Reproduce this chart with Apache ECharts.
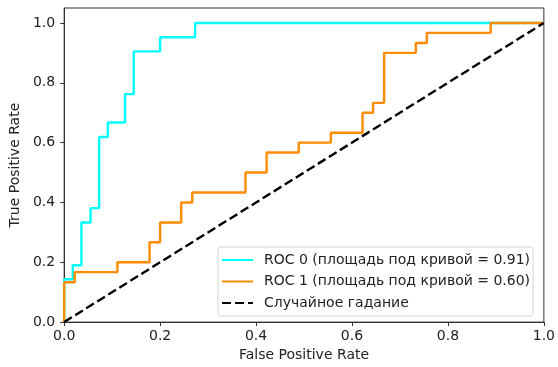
<!DOCTYPE html>
<html>
<head>
<meta charset="utf-8">
<script src="https://cdn.jsdelivr.net/npm/echarts@6/dist/echarts.min.js"></script>
<style>
html, body {margin: 0; padding: 0; background: #fff;}
#chart {width: 558px; height: 367px;}
</style>
</head>
<body>
<div id="chart"></div>
<script>
var fpr0 = [0, 0, 0.018, 0.018, 0.036, 0.036, 0.055, 0.055, 0.073, 0.073, 0.091, 0.091, 0.127, 0.127, 0.145, 0.145, 0.2, 0.2, 0.273, 0.273, 1];
var tpr0 = [0, 0.143, 0.143, 0.19, 0.19, 0.333, 0.333, 0.381, 0.381, 0.619, 0.619, 0.667, 0.667, 0.762, 0.762, 0.905, 0.905, 0.952, 0.952, 1, 1];
var fpr1 = [0, 0, 0.022, 0.022, 0.111, 0.111, 0.178, 0.178, 0.2, 0.2, 0.244, 0.244, 0.267, 0.267, 0.378, 0.378, 0.422, 0.422, 0.489, 0.489, 0.556, 0.556, 0.622, 0.622, 0.644, 0.644, 0.667, 0.667, 0.733, 0.733, 0.756, 0.756, 0.889, 0.889, 1];
var tpr1 = [0, 0.133, 0.133, 0.167, 0.167, 0.2, 0.2, 0.267, 0.267, 0.333, 0.333, 0.4, 0.4, 0.433, 0.433, 0.5, 0.5, 0.567, 0.567, 0.6, 0.6, 0.633, 0.633, 0.7, 0.7, 0.733, 0.733, 0.9, 0.9, 0.933, 0.933, 0.967, 0.967, 1, 1];
var chanceX = [0, 1];
var chanceY = [0, 1];
var ticks = [0, 0.2, 0.4, 0.6, 0.8, 1.0];
var names = ['ROC 0 (площадь под кривой = 0.91)', 'ROC 1 (площадь под кривой = 0.60)', 'Случайное гадание'];

function pairs(xs, ys) {
    return xs.map(function (x, i) { return [x, ys[i]]; });
}

var font = 'DejaVu Sans';
var axisCommon = {
    type: 'value',
    nameLocation: 'middle',
    nameTextStyle: {fontFamily: font, fontSize: 14, color: '#222'},
    axisLine: {show: true, lineStyle: {color: '#333', width: 1}},
    axisTick: {show: true, length: 4, lineStyle: {color: '#333'}, customValues: ticks},
    axisLabel: {fontFamily: font, fontSize: 14, color: '#222', customValues: ticks,
        formatter: function (v) { return v.toFixed(1); }},
    splitLine: {show: false}
};

var chart = echarts.init(document.getElementById('chart'));
chart.setOption({
    animation: false,
    grid: {left: 64, right: 9, top: 8, bottom: 44, show: true, borderColor: '#333', borderWidth: 1},
    xAxis: echarts.util.merge({
        min: 0, max: 1,
        name: 'False Positive Rate', nameGap: 24,
        axisLabel: {margin: 7}
    }, axisCommon),
    yAxis: echarts.util.merge({
        min: 0, max: 1.05,
        name: 'True Positive Rate', nameGap: 40,
        axisLabel: {margin: 9}
    }, axisCommon),
    legend: {
        data: names,
        orient: 'vertical',
        left: 218, top: 247,
        itemWidth: 31, itemHeight: 14, itemGap: 5.5,
        padding: [5, 3, 5, 3],
        backgroundColor: 'rgba(255,255,255,0.8)',
        borderColor: '#d4d4d4', borderWidth: 1, borderRadius: 3,
        itemStyle: {opacity: 0},
        textStyle: {fontFamily: font, fontSize: 14, color: '#222', lineHeight: 16, padding: [0, 0, 0, 6]}
    },
    series: [
        {name: names[0], type: 'line', data: pairs(fpr0, tpr0), symbol: 'none', clip: false,
            color: '#00ffff', lineStyle: {color: '#00ffff', width: 2.4}},
        {name: names[1], type: 'line', data: pairs(fpr1, tpr1), symbol: 'none', clip: false,
            color: '#ff8c00', lineStyle: {color: '#ff8c00', width: 2.4}},
        {name: names[2], type: 'line', data: pairs(chanceX, chanceY), symbol: 'none', clip: false,
            color: '#000', lineStyle: {color: '#000', width: 2.4, type: [9, 4]}}
    ]
});
</script>
</body>
</html>
